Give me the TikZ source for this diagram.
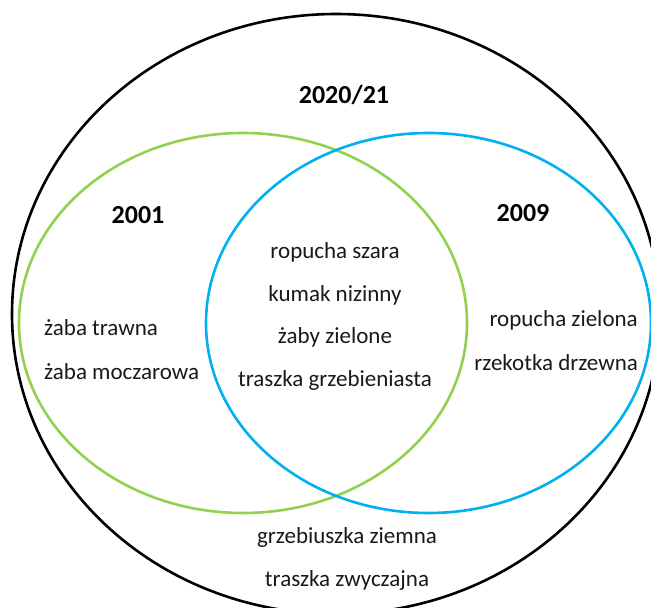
\documentclass[tikz,border=0pt]{standalone}
\usepackage{fontspec}
\setmainfont{Carlito}
\definecolor{vgreen}{HTML}{92D050}
\definecolor{vblue}{HTML}{00B0F0}
\begin{document}
\begin{tikzpicture}[x=1pt, y=-1pt]
	\tikzstyle{set} = [ line width=2.6pt ];
	\tikzstyle{year} = [ font={\fontsize{26}{30}\selectfont\bfseries} ];
	\tikzstyle{species} = [ inner sep=0pt, font={\fontsize{23}{27}\selectfont}, text=black!90 ];

	\useasboundingbox (0,0) rectangle (651,608);

	\draw[set, black] (336,314) ellipse (324 and 300);
	\draw[set, vgreen] (243,323) ellipse (224 and 190);
	\draw[set, vblue] (428.5,323) ellipse (222.5 and 190);

	\node[year] (all)  at (344,95)  {2020/21};
	\node[year] (y2001) at (138,215) {2001};
	\node[year] (y2009) at (523,213) {2009};

	\foreach \name/\yi in {ropucha szara/252, kumak nizinny/295, żaby zielone/337, traszka grzebieniasta/380} {
		\node[species] at (335,\yi) {\name};
	}

	\node[species, anchor=west] (trawna)    at (44,328) {żaba trawna};
	\node[species, anchor=west] (moczarowa) at (44,372) {żaba moczarowa};

	\node[species, anchor=east] (zielona) at (638,320) {ropucha zielona};
	\node[species, anchor=east] (drzewna) at (638,363) {rzekotka drzewna};

	\node[species] (ziemna)    at (347,537) {grzebiuszka ziemna};
	\node[species] (zwyczajna) at (347,580) {traszka zwyczajna};
\end{tikzpicture}
\end{document}
